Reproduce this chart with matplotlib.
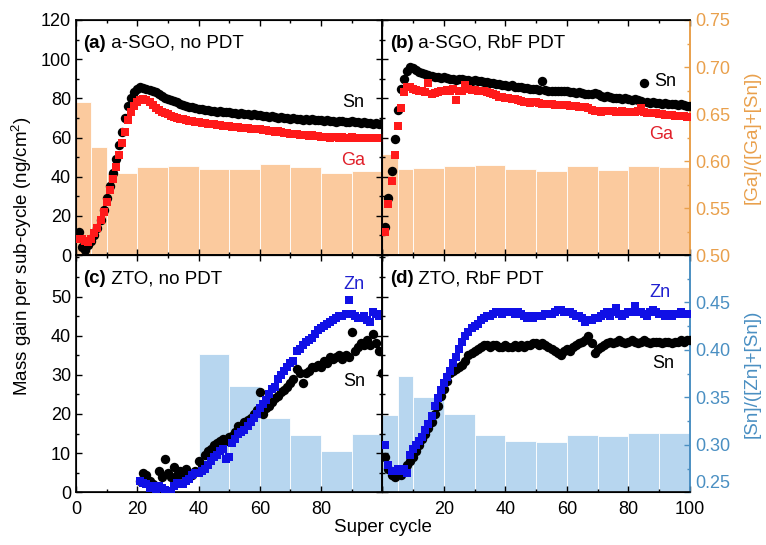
import numpy as np
import matplotlib.pyplot as plt
from matplotlib.ticker import MultipleLocator

plt.rcParams['font.family'] = ['Liberation Sans', 'DejaVu Sans']
plt.rcParams['font.size'] = 13
plt.rcParams['mathtext.fontset'] = 'custom'
plt.rcParams['mathtext.rm'] = 'Liberation Sans'

##------------------------------------- DATA -------------------------------------
cyc = np.arange(1, 101)       # super cycles, panels a, b, d
cyc_c = np.arange(21, 101)    # panel c starts later

a_sn = [12, 4, 2.5, 5, 7, 10, 14, 18, 23, 29,
        35, 42, 49, 56, 63, 70, 76, 80, 83, 85,
        86, 85.5, 85, 84.5, 84, 83, 82, 81, 80, 79.5,
        79, 78.5, 78, 77, 76.5, 76, 75.5, 75.5, 75, 74.5,
        74.5, 74, 74, 73.5, 73.5, 73, 73.5, 73, 73, 73,
        72.5, 72.5, 72, 72.5, 72, 72, 71.5, 72, 71.5, 71.5,
        71, 71, 70.5, 71, 70.5, 70, 70.5, 70, 70, 69.5,
        70, 69.5, 69.5, 69, 69.5, 69, 69.5, 69, 69, 69,
        68.5, 69, 68.5, 68.5, 68, 68.5, 68.5, 68, 68, 68.5,
        68, 68, 67.5, 68, 67.5, 67.5, 67, 67.5, 67, 67.5]
a_ga = [8, 8, 7, 6.5, 8, 11, 14, 18, 22, 27,
        33, 39, 45, 51, 57, 63, 69, 73, 76, 78,
        79, 79.5, 79, 78, 76.5, 75, 74, 73, 72.5, 72,
        71, 70.5, 70, 69.5, 69.5, 69, 68.5, 68.5, 68, 68,
        67.5, 67.5, 67, 67, 67, 66.5, 66.5, 66, 66, 66,
        65.5, 65.5, 65.5, 65, 65, 65, 64.5, 64.5, 64.5, 64.5,
        64, 64, 63.5, 63.5, 63, 63.5, 63, 62.5, 62.5, 62,
        62, 62, 61.5, 61.5, 61.5, 61, 61.5, 61, 61, 60.5,
        60.5, 60.5, 60, 60.5, 60.5, 60, 60.5, 60, 60, 60.5,
        60, 60, 59.5, 60, 60, 59.5, 59.5, 60, 59.5, 59.5]

b_sn = [14.5, 29, 43, 59, 74, 85, 90, 94, 96, 95.5,
        94.5, 93.5, 93, 92.5, 92, 91.5, 91, 91, 90.5, 91,
        90.5, 90, 90, 89.5, 90, 90, 89.5, 89.5, 89, 89.5,
        89, 89, 88.5, 88.5, 88, 88, 87.5, 87.5, 87, 87,
        86.5, 87, 86, 86, 86, 85.5, 85.5, 85, 85, 85,
        84.5, 89, 84.5, 84, 84, 84, 84, 83.5, 83.5, 84,
        83, 83, 82.5, 83, 82.5, 82, 82, 82, 82.5, 82,
        81, 80.5, 81, 80.5, 80, 80, 80, 79.5, 80, 79.5,
        79, 79.5, 79, 78.5, 88, 78, 77.5, 78, 77.5, 77.5,
        77, 77.5, 77, 77, 77, 76.5, 77, 76.5, 76, 76]
b_ga = [12, 26, 38, 51, 66, 75, 83, 86, 86, 85,
        84.5, 84, 83.5, 83, 88, 82, 82.5, 83, 83.5, 84,
        84.5, 84, 85, 79, 83.5, 84, 87, 85, 84.5, 84.5,
        84, 84, 83.5, 83, 82.5, 82, 81.5, 80.5, 80.5, 80,
        80, 79.5, 79.5, 79, 78.5, 78, 78, 77.5, 78, 78,
        77.5, 77, 77, 77, 77, 76.5, 76.5, 76.5, 76.5, 76.5,
        76, 76, 76, 75.5, 75.5, 75.5, 75, 74, 73.5, 73.5,
        73, 73.5, 73.5, 73.5, 73.5, 73, 73, 73.5, 73, 73,
        73, 73, 73.5, 75, 73, 72.5, 72.5, 72.5, 72.5, 72,
        72, 71.5, 71.5, 71.5, 71, 71, 71, 71, 70.5, 70.5]

c_sn = [3, 5, 4.5, 3, 2, 1.5, 5.5, 4, 8.5, 5,
        4, 6.5, 4.5, 5.5, 4.5, 6, 5, 4.5, 5.5, 8,
        7, 9.5, 10.5, 11, 12, 12.5, 13, 13.5, 13, 14,
        14.5, 15.5, 17, 16.5, 18, 18.5, 19, 20, 21, 25.5,
        20, 21.5, 22, 23, 24, 24.5, 25.5, 26, 27, 28,
        29, 31.5, 30.5, 28, 30.5, 31, 32, 32, 32.5, 32,
        33.5, 33, 34.5, 34, 34.5, 35, 34, 35, 34.5, 41,
        36, 37, 38, 37.5, 39, 37.5, 40.5, 38, 36, 30.5]
c_zn = [3, 2.5, 2, 1, 1.5, 0.5, 1.5, 1, 0.5, 0.2,
        0.3, 1.5, 2.5, 2, 2, 3, 3.5, 4.5, 5, 5,
        5.5, 6, 7, 8, 9, 9.5, 10.5, 11, 8.5, 9,
        12.5, 13.5, 15, 15.5, 16, 17, 18, 19, 20, 21.5,
        22.5, 23.5, 25, 26.5, 27, 29, 30, 31, 32, 33,
        33.5, 36, 36.5, 37.5, 38.5, 39, 39.5, 40.5, 41.5, 42,
        42.5, 43, 43.5, 44, 44.5, 45, 45, 45.5, 49, 45.5,
        45, 44.5, 44.5, 45, 44, 43.5, 46, 45.5, 45, 45.5]

d_sn = [9, 6, 4.5, 4, 5, 4.5, 6, 7, 8, 9,
        10.5, 12, 13.5, 15, 16.5, 18, 20, 22, 24.5, 26.5,
        28.5, 30.5, 31, 31.5, 32, 32.5, 33.5, 35, 35.5, 36,
        36.5, 37, 37.5, 37.5, 37, 37.5, 37.5, 37, 37, 37.5,
        37, 37, 37.5, 37, 37.5, 37, 37.5, 37.5, 38, 38,
        37.5, 38, 37.5, 37, 36.5, 36, 35.5, 35, 36, 36.5,
        36, 37, 37.5, 38, 38.5, 39, 40, 38, 35.5, 36.5,
        37, 37.5, 38, 38.5, 38, 38.5, 39, 38.5, 38, 38.5,
        39, 38.5, 38, 38.5, 39, 38.5, 38, 38.5, 38.5, 38.5,
        38, 38.5, 38.5, 38, 38.5, 38.5, 39, 38.5, 39, 39]
d_zn = [12, 7, 5.5, 5.5, 6, 5.5, 6, 5, 9.5, 11,
        12, 13, 14, 16, 17.5, 19.5, 22, 24, 26, 28,
        29.5, 31, 33, 34.5, 36.5, 38.5, 40, 41, 42, 42.5,
        43, 44, 44.5, 45, 45, 45.5, 46, 46, 45.5, 46,
        46, 46, 45.5, 46, 45.5, 45, 44.5, 45, 44.5, 45,
        45, 45, 45.5, 45.5, 45.5, 46, 46.5, 46.5, 46, 46,
        46, 45.5, 45, 45, 44.5, 43.5, 44, 44, 44.5, 44.5,
        45, 45.5, 46, 45, 46, 47, 45.5, 45, 45.5, 46,
        46, 47.5, 46, 46, 45.5, 45, 46, 46.5, 46, 45.5,
        45.5, 45, 45.5, 45, 45.5, 45.5, 46, 45.5, 45.5, 45.5]

# composition ratio per cycle bin (right axes)
bin_edges = [0, 5, 10, 20, 30, 40, 50, 60, 70, 80, 90, 100]
bin_edges_c = [40, 50, 60, 70, 80, 90, 100]
frac_a = [0.663, 0.615, 0.587, 0.594, 0.595, 0.592, 0.592, 0.5965, 0.594, 0.5875, 0.589]
frac_b = [0.607, 0.592, 0.593, 0.595, 0.596, 0.5915, 0.589, 0.595, 0.590, 0.595, 0.594]
frac_c = [0.396, 0.362, 0.328, 0.310, 0.294, 0.311]
frac_d = [0.331, 0.372, 0.350, 0.333, 0.310, 0.304, 0.303, 0.310, 0.309, 0.312, 0.313]

##------------------------------------- STYLE -------------------------------------
ORANGE = '#e9a04c'
BLUE_AX = '#4a8fc2'
BAR_OR = '#fbca9e'
BAR_BL = '#b7d6ef'
RED = '#ff1a1a'
BLUE = '#1010e6'

fig = plt.figure(figsize=(7.66, 5.45), dpi=100)
W = 766.0
H = 545.0
def box(x0, y0, x1, y1):
    return [x0 / W, 1 - y1 / H, (x1 - x0) / W, (y1 - y0) / H]

ax_a = fig.add_axes(box(76, 20, 382.3, 255))
ax_b = fig.add_axes(box(382.3, 20, 690, 255))
ax_c = fig.add_axes(box(76, 255, 382.3, 492.3))
ax_d = fig.add_axes(box(382.3, 255, 690, 492.3))

def setup(ax, edges, frac, barcol, ylim, ylim2, ymaj, ymin, show_left, right_col):
    tw = ax.twinx()
    tw.bar(edges[:-1], frac, width=np.diff(edges), align='edge',
           color=barcol, edgecolor='white', linewidth=0.6)
    tw.set_ylim(*ylim2)
    ax.set_zorder(tw.get_zorder() + 1)
    ax.patch.set_visible(False)
    ax.set_xlim(0, 100)
    ax.set_ylim(*ylim)
    ax.xaxis.set_major_locator(MultipleLocator(20))
    ax.xaxis.set_minor_locator(MultipleLocator(10))
    ax.set_yticks(ymaj)
    ax.yaxis.set_minor_locator(MultipleLocator(ymin))
    ax.tick_params(which='both', direction='in', top=True, left=True,
                   labelleft=show_left, width=1.0)
    ax.tick_params(which='major', length=4.5)
    ax.tick_params(which='minor', length=2.5)
    ax.tick_params(axis='x', pad=6)
    for s in ax.spines.values():
        s.set_linewidth(1.2)
    if right_col is None:
        ax.tick_params(which='both', right=True)
        tw.tick_params(which='both', right=False, labelright=False)
    else:
        ax.tick_params(which='both', right=False)
        ax.spines['right'].set_color(right_col)
        tw.spines['right'].set_color(right_col)
        tw.spines['right'].set_linewidth(1.2)
        tw.yaxis.set_major_locator(MultipleLocator(0.05))
        tw.yaxis.set_minor_locator(MultipleLocator(0.025))
        tw.tick_params(which='both', direction='in', color=right_col,
                       labelcolor=right_col, width=1.0)
        tw.tick_params(which='major', length=4.5)
        tw.tick_params(which='minor', length=2.5)
    return tw

tw_a = setup(ax_a, bin_edges, frac_a, BAR_OR, (0, 120), (0.5, 0.75),
             np.arange(0, 121, 20), 10, True, None)
tw_b = setup(ax_b, bin_edges, frac_b, BAR_OR, (0, 120), (0.5, 0.75),
             np.arange(0, 121, 20), 10, False, ORANGE)
tw_c = setup(ax_c, bin_edges_c, frac_c, BAR_BL, (0, 60.6), (0.25, 0.5),
             np.arange(0, 51, 10), 5, True, None)
tw_d = setup(ax_d, bin_edges, frac_d, BAR_BL, (0, 60.6), (0.25, 0.5),
             np.arange(0, 51, 10), 5, False, BLUE_AX)
tw_b.set_yticks([0.5, 0.55, 0.6, 0.65, 0.7, 0.75])
tw_b.set_yticklabels(['', '0.55', '0.60', '0.65', '0.70', '0.75'])
tw_d.set_yticks([0.25, 0.3, 0.35, 0.4, 0.45, 0.5])
tw_d.set_yticklabels(['0.25', '0.30', '0.35', '0.40', '0.45', '0.50'])
tw_d.get_yticklabels()[-1].set_color(ORANGE)
tw_d.get_yticklabels()[0].set_verticalalignment('bottom')

for ax in (ax_a, ax_b):
    ax.tick_params(labelbottom=False)
ax_c.set_xticks([0, 20, 40, 60, 80, 100])
ax_c.set_xticklabels(['0', '20', '40', '60', '80', ''])
ax_d.set_xticks([0, 20, 40, 60, 80, 100])
ax_d.set_xticklabels(['', '20', '40', '60', '80', '100'])

# scatter series
S_C, S_S = 46, 26
ax_a.scatter(cyc, a_sn, s=S_C, color='black', lw=0, zorder=3)
ax_a.scatter(cyc, a_ga, s=S_S, marker='s', color=RED, lw=0, zorder=4)
ax_b.scatter(cyc, b_sn, s=S_C, color='black', lw=0, zorder=3)
ax_b.scatter(cyc, b_ga, s=S_S, marker='s', color=RED, lw=0, zorder=4)
ax_c.scatter(cyc_c, c_sn, s=S_C, color='black', lw=0, zorder=3)
ax_c.scatter(cyc_c, c_zn, s=S_S, marker='s', color=BLUE, lw=0, zorder=4)
ax_d.scatter(cyc, d_sn, s=S_C, color='black', lw=0, zorder=3)
ax_d.scatter(cyc, d_zn, s=S_S, marker='s', color=BLUE, lw=0, zorder=4)

# series labels
ax_a.text(90.5, 78, 'Sn', ha='center', va='center')
ax_a.text(90.5, 48.5, 'Ga', ha='center', va='center', color='#e0202a')
ax_b.text(92, 88.5, 'Sn', ha='center', va='center')
ax_b.text(90.5, 61.5, 'Ga', ha='center', va='center', color='#e0202a')
ax_c.text(90.9, 53, 'Zn', ha='center', va='center', color='#2020d0')
ax_c.text(90.9, 28.3, 'Sn', ha='center', va='center')
ax_d.text(90.2, 50.9, 'Zn', ha='center', va='center', color='#2020d0')
ax_d.text(91.3, 33, 'Sn', ha='center', va='center')

# panel titles: bold letter + regular text
titles = [(ax_a, '(a)', ' a-SGO, no PDT'), (ax_b, '(b)', ' a-SGO, RbF PDT'),
          (ax_c, '(c)', ' ZTO, no PDT'), (ax_d, '(d)', ' ZTO, RbF PDT')]
for ax, tag, rest in titles:
    t = ax.text(0.024, 0.90, tag, transform=ax.transAxes, fontweight='bold',
                ha='left', va='center', zorder=6, fontsize=13.5)
    ax.annotate(rest, xy=(1, 0), xycoords=t, va='bottom', ha='left', zorder=6,
                fontsize=13.5)

fig.text(0.028, 0.53, 'Mass gain per sub-cycle (ng/cm$^2$)', rotation=90,
         ha='center', va='center', fontsize=13.5)
fig.text(0.5, 0.032, 'Super cycle', ha='center', va='center', fontsize=13.5)
fig.text(0.982, 0.748, '[Ga]/([Ga]+[Sn])', rotation=90, ha='center',
         va='center', color=ORANGE, fontsize=13.5)
fig.text(0.982, 0.315, '[Sn]/([Zn]+[Sn])', rotation=90, ha='center',
         va='center', color=BLUE_AX, fontsize=13.5)

fig.savefig('out.png', dpi=100)
